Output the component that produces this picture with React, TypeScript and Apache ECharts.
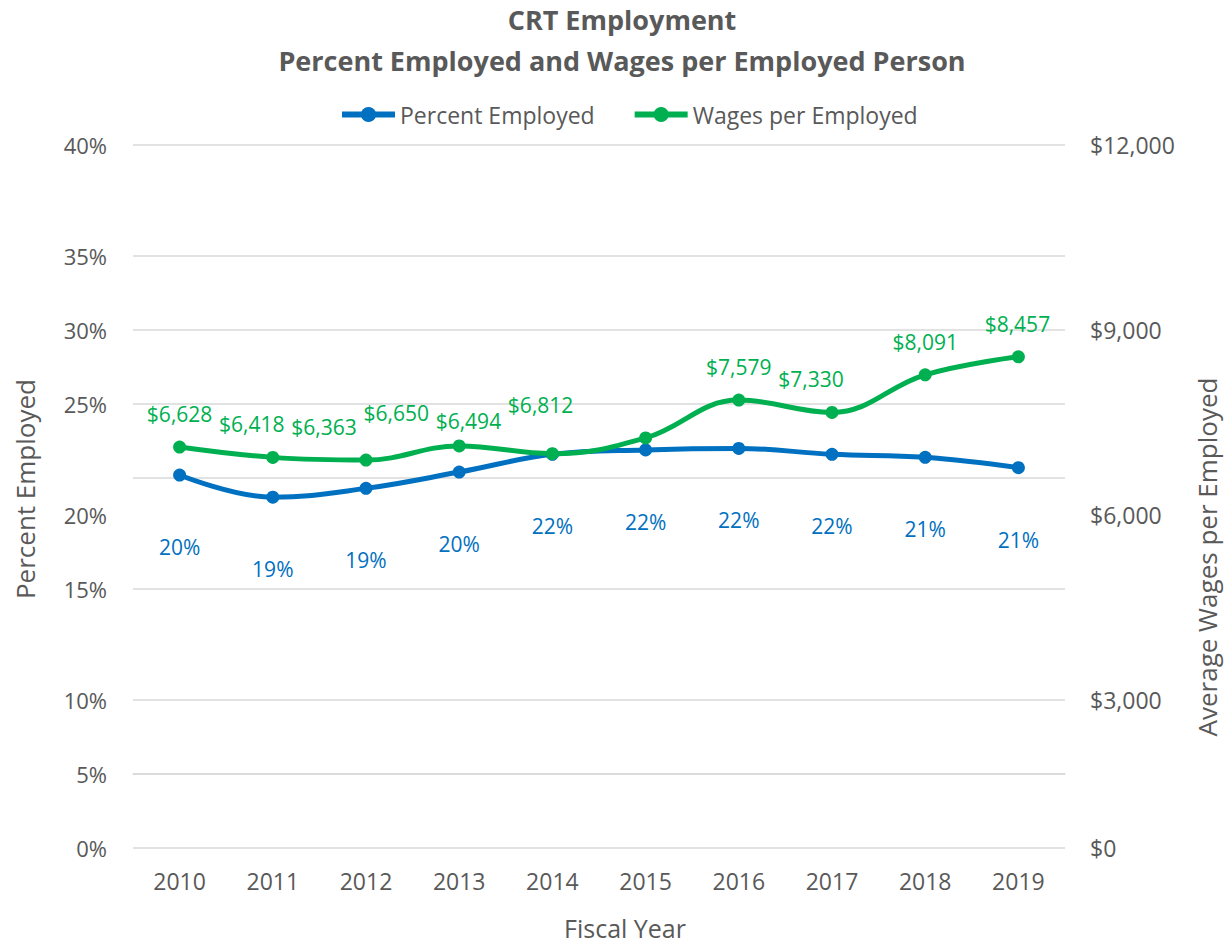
import React, { useEffect, useRef } from "react";
import * as echarts from "echarts";

const years = ["2010", "2011", "2012", "2013", "2014", "2015", "2016", "2017", "2018", "2019"];
const percentEmployed = [20.2, 18.7, 19.3, 20.4, 21.6, 21.9, 22.0, 21.6, 21.4, 20.7];
const wagesPerEmployed = [6628, 6418, 6363, 6650, 6494, 6812, 7579, 7330, 8091, 8457];

// tick labels as printed, one per tick (from the bottom of the axis)
const percentTickLabels = ["0%", "", "5%", "", "10%", "", "", "15%", "", "20%", "", "", "25%", "", "30%", "", "35%", "", "", "40%"];
const wageTickLabels = ["$0", "", "", "", "$3,000", "", "", "", "", "$6,000", "", "", "", "", "$9,000", "", "", "", "", "$12,000"];
// ticks that carry a gridline
const gridTicks = [0, 2, 4, 7, 10, 12, 14, 16, 19];
// horizontal shift of the wage labels
const wageLabelShift = [0, -21, -42, -63, -84, -105, 0, -21, 0, -1];

const TEXT = "#595959";
const BLUE = "#0070C0";
const GREEN = "#00B050";
const FONT = "'Open Sans', sans-serif";

export default function App() {
  const ref = useRef<HTMLDivElement>(null);
  useEffect(() => {
    if (!ref.current) return;
    const chart = echarts.init(ref.current, undefined, { renderer: "svg" });
    const gridColors = percentTickLabels.map((_, i) => (gridTicks.includes(i) ? "#D9D9D9" : "rgba(0,0,0,0)"));
    chart.setOption({
      animation: false,
      backgroundColor: "#ffffff",
      textStyle: { fontFamily: FONT },
      title: [
        {
          text: "CRT Employment",
          left: 622,
          textAlign: "center",
          top: 6,
          padding: 0,
          textStyle: { fontFamily: FONT, fontSize: 27, fontWeight: "bold", color: TEXT },
        },
        {
          text: "Percent Employed and Wages per Employed Person",
          left: 622,
          textAlign: "center",
          top: 47,
          padding: 0,
          textStyle: { fontFamily: FONT, fontSize: 27, fontWeight: "bold", color: TEXT },
        },
      ],
      legend: {
        top: 98,
        left: 334,
        itemWidth: 53,
        itemHeight: 19,
        itemGap: 37,
        lineStyle: { width: 6 },
        textStyle: { fontFamily: FONT, fontSize: 23, color: TEXT },
        data: ["Percent Employed", "Wages per Employed"],
      },
      grid: { left: 133, right: 163, top: 145, bottom: 97, containLabel: false },
      xAxis: {
        type: "category",
        data: years,
        boundaryGap: true,
        axisLine: { show: true, lineStyle: { color: "#D9D9D9", width: 1.5 } },
        axisTick: { show: false },
        axisLabel: { fontFamily: FONT, fontSize: 23, color: TEXT, margin: 21 },
        splitLine: { show: false },
      },
      yAxis: [
        {
          type: "value",
          min: -5,
          max: 42.5,
          interval: 2.5,
          axisLine: { show: false },
          axisTick: { show: false },
          axisLabel: {
            fontFamily: FONT,
            fontSize: 22,
            color: TEXT,
            margin: 26,
            formatter: (_v: number, i: number) => percentTickLabels[i] ?? "",
          },
          splitLine: { show: true, lineStyle: { color: gridColors, width: 1.5 } },
        },
        {
          type: "value",
          min: -1500,
          max: 12750,
          interval: 750,
          position: "right",
          axisLine: { show: false },
          axisTick: { show: false },
          axisLabel: {
            fontFamily: FONT,
            fontSize: 23,
            color: TEXT,
            margin: 25,
            formatter: (_v: number, i: number) => wageTickLabels[i] ?? "",
          },
          splitLine: { show: false },
        },
      ],
      graphic: [
        {
          type: "text",
          x: 25,
          y: 489,
          rotation: Math.PI / 2,
          style: { text: "Percent Employed", fontFamily: FONT, fontSize: 26, fill: TEXT, textAlign: "center", textVerticalAlign: "middle" },
        },
        {
          type: "text",
          x: 1207,
          y: 557,
          rotation: Math.PI / 2,
          style: { text: "Average Wages per Employed", fontFamily: FONT, fontSize: 26, fill: TEXT, textAlign: "center", textVerticalAlign: "middle" },
        },
        {
          type: "text",
          x: 625,
          y: 928,
          style: { text: "Fiscal Year", fontFamily: FONT, fontSize: 25, fill: TEXT, textAlign: "center", textVerticalAlign: "middle" },
        },
      ],
      series: [
        {
          name: "Percent Employed",
          type: "line",
          yAxisIndex: 0,
          data: percentEmployed,
          smooth: 0.4,
          symbol: "circle",
          symbolSize: 13,
          itemStyle: { color: BLUE },
          lineStyle: { color: BLUE, width: 5 },
          label: {
            show: true,
            position: "inside",
            offset: [0, 72],
            color: BLUE,
            fontFamily: FONT,
            fontSize: 21,
            formatter: (p: any) => Math.round(p.value) + "%",
          },
        },
        {
          name: "Wages per Employed",
          type: "line",
          yAxisIndex: 1,
          data: wagesPerEmployed.map((v, i) => ({
            value: v,
            label: { offset: [wageLabelShift[i], -33] },
          })),
          smooth: 0.4,
          symbol: "circle",
          symbolSize: 13,
          itemStyle: { color: GREEN },
          lineStyle: { color: GREEN, width: 5 },
          label: {
            show: true,
            position: "inside",
            color: GREEN,
            fontFamily: FONT,
            fontSize: 21,
            formatter: (p: any) => "$" + Number(p.value).toLocaleString("en-US"),
          },
        },
      ],
    });
    return () => chart.dispose();
  }, []);
  return <div ref={ref} style={{ position: "fixed", left: 0, top: 0, width: 1228, height: 945 }} />;
}
